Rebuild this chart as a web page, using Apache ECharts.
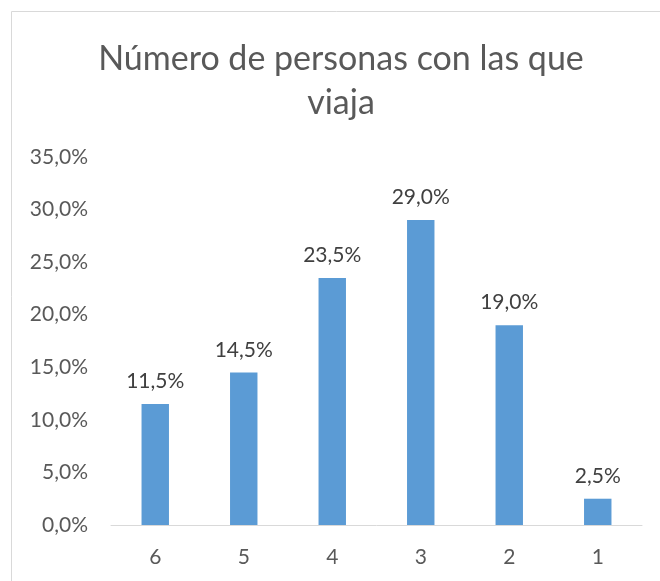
<!DOCTYPE html>
<html>
<head>
<meta charset="utf-8">
<script src="https://cdn.jsdelivr.net/npm/echarts@6/dist/echarts.min.js"></script>
<style>
  html, body { margin: 0; padding: 0; background: #fff; }
  #chart { width: 660px; height: 581px; }
</style>
</head>
<body>
<div id="chart"></div>
<script>
const categories = ['6', '5', '4', '3', '2', '1']
const values = [11.5, 14.5, 23.5, 29.0, 19.0, 2.5]
const titleText = 'Número de personas con las que\nviaja'

function pct(v) {
  return v.toFixed(1).replace('.', ',') + '%'
}

const chart = echarts.init(document.getElementById('chart'))

const option = {
  animation: false,
  textStyle: { fontFamily: 'Lato' },
  title: {
    text: titleText,
    left: 341,
    top: 37,
    textAlign: 'center',
    padding: 0,
    textStyle: {
      fontFamily: 'Lato',
      fontSize: 34,
      fontWeight: 'normal',
      color: '#595959',
      lineHeight: 44,
      align: 'center',
    },
  },
  graphic: [
    {
      type: 'rect',
      shape: { x: 11.5, y: 11.5, width: 700, height: 700 },
      style: { fill: 'none', stroke: '#d9d9d9', lineWidth: 1 },
      silent: true,
    },
  ],
  grid: {
    left: 111,
    right: 18,
    top: 157,
    bottom: 56,
    containLabel: false,
  },
  xAxis: {
    type: 'category',
    data: categories,
    axisLine: { lineStyle: { color: '#d9d9d9', width: 1 } },
    axisTick: { show: false },
    axisLabel: { color: '#595959', fontSize: 21, margin: 22 },
  },
  yAxis: {
    type: 'value',
    min: 0,
    max: 35,
    interval: 5,
    splitLine: { show: false },
    axisLine: { show: false },
    axisTick: { show: false },
    axisLabel: {
      color: '#595959',
      fontSize: 21,
      margin: 23,
      formatter: v => pct(v),
    },
  },
  series: [
    {
      type: 'bar',
      data: values,
      barWidth: '31%',
      itemStyle: { color: '#5b9bd5' },
      label: {
        show: true,
        position: 'top',
        distance: 12,
        color: '#404040',
        fontSize: 21,
        formatter: p => pct(p.value),
      },
    },
  ],
}

chart.setOption(option)
</script>
</body>
</html>
